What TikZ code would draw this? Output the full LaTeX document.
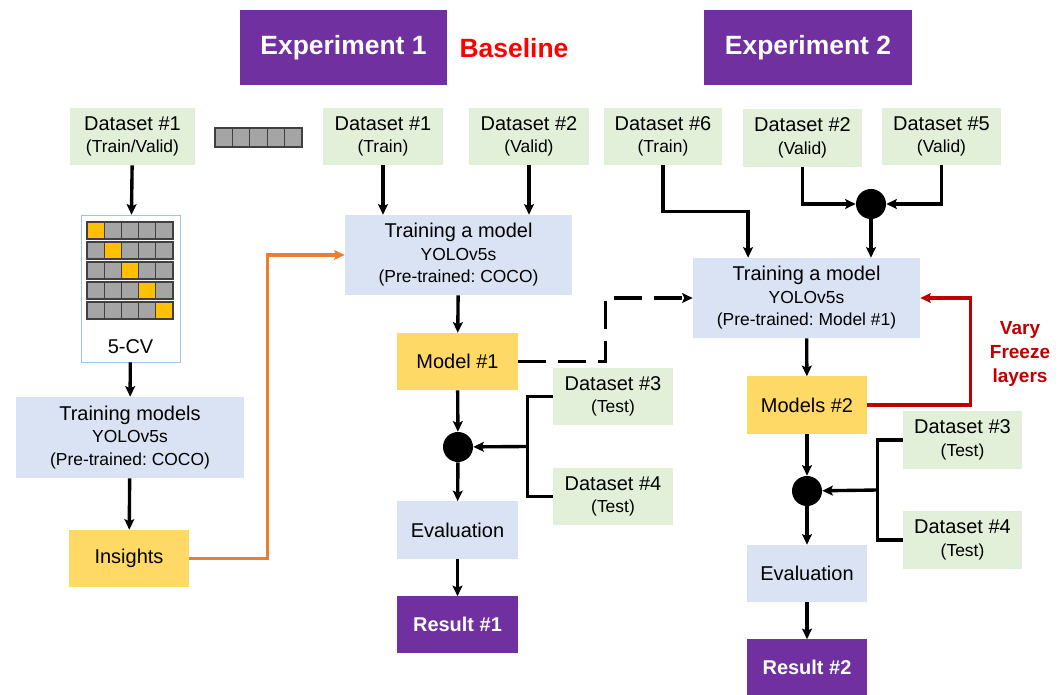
\documentclass[tikz,border=0pt]{standalone}
\usepackage{fontspec}
\setmainfont{Liberation Sans}
\usetikzlibrary{arrows.meta,calc}

\definecolor{exppurple}{HTML}{7030A0}
\definecolor{datagreen}{HTML}{E2F0D9}
\definecolor{trainblue}{HTML}{DAE3F3}
\definecolor{modelyellow}{HTML}{FFD966}
\definecolor{foldyellow}{HTML}{FFC000}
\definecolor{foldgrey}{HTML}{A5A5A5}
\definecolor{cvborder}{HTML}{9DC3E6}
\definecolor{insightorange}{HTML}{ED7D31}
\definecolor{freezered}{HTML}{C00000}

\newcommand{\mainsize}{\fontsize{14.2}{16}\selectfont}
\newcommand{\subsize}{\fontsize{12.4}{16}\selectfont}
\newcommand{\titlesize}{\fontsize{18.8}{22}\selectfont}
\frenchspacing

\tikzset{
  databox/.style={fill=datagreen, minimum width=3cm, minimum height=1.425cm,
    align=center, inner sep=0pt, font=\mainsize},
  trainbox/.style={fill=trainblue, minimum width=5.675cm, minimum height=2cm,
    align=center, inner sep=0pt, font=\mainsize},
  modelbox/.style={fill=modelyellow, minimum width=3cm, minimum height=1.425cm,
    inner sep=0pt, font=\mainsize},
  evalbox/.style={fill=trainblue, minimum width=3cm, minimum height=1.425cm,
    inner sep=0pt, font=\mainsize},
  resultbox/.style={fill=exppurple, text=white, minimum width=3cm,
    minimum height=1.4cm, inner sep=0pt, font=\mainsize\bfseries},
  titlebox/.style={fill=exppurple, text=white, minimum width=5.175cm,
    minimum height=1.875cm, inner sep=0pt, font=\titlesize\bfseries},
  joint/.style={circle, fill=black, minimum size=0.75cm, inner sep=0pt},
  fold/.style={draw=black!75, line width=0.8pt},
  link/.style={line width=2.4pt},
  flow/.style={link, -{Stealth[length=7.5pt,width=7pt,inset=1.5pt]}},
}

\begin{document}
\begin{tikzpicture}[x=0.025cm, y=-0.025cm]
  \useasboundingbox (0,0) rectangle (1061,695);

  % titles
  \node[titlebox] (exp1) at (343.5,47.5) {Experiment 1};
  \node[text=red, font=\titlesize\bfseries] (base) at (514,48) {Baseline};
  \node[titlebox] (exp2) at (808,47.5) {Experiment 2};

  % 5-fold cross validation
  \node[databox, minimum width=3.125cm] (dsA) at (132.5,136.5)
    {Dataset \#1\\{\subsize (Train/Valid)}};
  \foreach \j in {0,...,4}
    \draw[fold, fill=foldgrey] (215+17.4*\j,128) rectangle ++(17.4,19);
  \node[draw=cvborder, fill=white, minimum width=2.475cm, minimum height=3.675cm,
    inner sep=0pt] (cv) at (130.5,288.5) {};
  \foreach \i in {0,...,4}
    \foreach \j in {0,...,4} {
      \ifnum\i=\j
        \draw[fold, fill=foldyellow] (87+17.2*\j,222+20*\i) rectangle ++(17.2,17);
      \else
        \draw[fold, fill=foldgrey] (87+17.2*\j,222+20*\i) rectangle ++(17.2,17);
      \fi
    }
  \node[font=\mainsize] (cvlabel) at (130.5,347) {5-CV};
  \node[trainbox, minimum width=5.7cm, minimum height=2.025cm] (trainA) at (130,437.5)
    {Training models\\{\subsize YOLOv5s}\\{\subsize (Pre-trained: COCO)}};
  \node[modelbox] (insights) at (129,558.5) {Insights};

  \draw[flow] (dsA) -- (cv);
  \draw[flow] (cv) -- (trainA);
  \draw[flow] (trainA) -- (insights);

  % experiment 1
  \node[databox] (ds1) at (383,136.5) {Dataset \#1\\{\subsize (Train)}};
  \node[databox] (ds2) at (529,136.5) {Dataset \#2\\{\subsize (Valid)}};
  \node[trainbox] (train1) at (458.5,255)
    {Training a model\\{\subsize YOLOv5s}\\{\subsize (Pre-trained: COCO)}};
  \node[modelbox] (model1) at (457.5,361.5) {Model \#1};
  \node[databox] (ds3a) at (613,396.5) {Dataset \#3\\{\subsize (Test)}};
  \node[databox] (ds4a) at (613,496.5) {Dataset \#4\\{\subsize (Test)}};
  \node[joint] (dot1) at (458,447) {};
  \node[evalbox] (eval1) at (457.5,530) {Evaluation};
  \node[resultbox] (res1) at (457.5,624.5) {Result \#1};

  \draw[flow, insightorange] (insights.east) -- ++(78,0) |- (train1.west);
  \draw[flow] (ds1.south) -- (ds1.south |- train1.north);
  \draw[flow] (ds2.south) -- (ds2.south |- train1.north);
  \draw[flow] (train1) -- (model1);
  \draw[flow] (model1) -- (dot1);
  \coordinate (j1) at ($(ds3a.west)!0.5!(ds4a.west)+(-25,0)$);
  \draw[link] (ds3a.west) -| (j1) |- (ds4a.west);
  \draw[flow] (j1) -- (dot1);
  \draw[flow] (dot1) -- (eval1);
  \draw[flow] (eval1) -- (res1);

  % experiment 2
  \node[databox, minimum width=2.95cm] (ds6) at (663,136.5) {Dataset \#6\\{\subsize (Train)}};
  \node[databox, minimum width=2.975cm] (ds2b) at (802.5,138) {Dataset \#2\\{\subsize (Valid)}};
  \node[databox, minimum width=2.975cm] (ds5) at (941.5,136.5) {Dataset \#5\\{\subsize (Valid)}};
  \node[joint] (dot2) at (871,204) {};
  \node[trainbox] (train2) at (806.5,298)
    {Training a model\\{\subsize YOLOv5s}\\{\subsize (Pre-trained: Model \#1)}};
  \node[modelbox] (models2) at (807,405) {Models \#2};
  \node[databox, minimum width=2.975cm] (ds3b) at (962.5,440) {Dataset \#3\\{\subsize (Test)}};
  \node[databox, minimum width=2.975cm] (ds4b) at (962.5,540) {Dataset \#4\\{\subsize (Test)}};
  \node[joint] (dot3) at (807,491) {};
  \node[evalbox] (eval2) at (807,573.5) {Evaluation};
  \node[resultbox] (res2) at (807,667.5) {Result \#2};
  \node[text=freezered, align=center, font=\fontsize{13.5}{17}\selectfont\bfseries]
    (vary) at (1020,354) {Vary\\Freeze\\layers};

  \draw[flow, dash pattern=on 0.7cm off 0.3cm] (model1.east) -- ++(88,0) |- (train2.west);
  \draw[flow] (ds6.south) -- ++(0,46) -| ([xshift=-1.46cm]train2.north);
  \draw[flow] (ds2b.south) |- (dot2.west);
  \draw[flow] (ds5.south) |- (dot2.east);
  \draw[flow] (dot2.south) -- (dot2.south |- train2.north);
  \draw[flow] (train2) -- (models2);
  \draw[flow, freezered] (models2.east) -- ++(103,0) |- (train2.east);
  \draw[flow] (models2) -- (dot3);
  \coordinate (j2) at ($(ds3b.west)!0.5!(ds4b.west)+(-25,0)$);
  \draw[link] (ds3b.west) -| (j2) |- (ds4b.west);
  \draw[flow] (j2) -- (dot3);
  \draw[flow] (dot3) -- (eval2);
  \draw[flow] (eval2) -- (res2);
\end{tikzpicture}
\end{document}
